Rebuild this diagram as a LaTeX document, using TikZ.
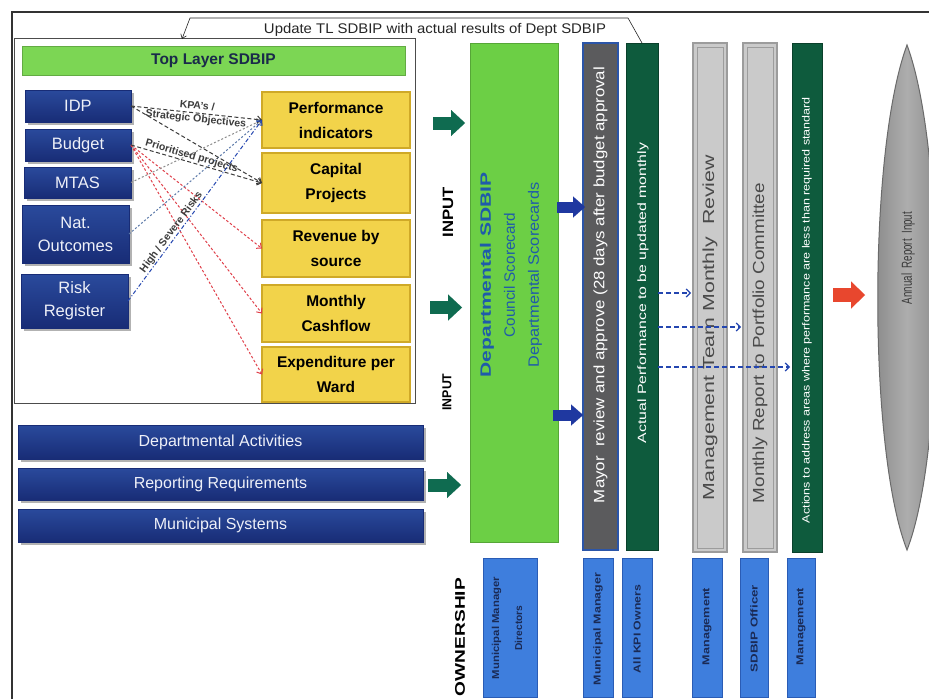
\documentclass[tikz,border=0pt]{standalone}
\usepackage{fontspec}
\setmainfont{Liberation Sans}
\usetikzlibrary{arrows.meta,calc,shadows}
\definecolor{navyA}{HTML}{2A4A9C}
\definecolor{navyB}{HTML}{182C76}
\definecolor{ntext}{HTML}{EEF0F8}
\definecolor{yelF}{HTML}{F2D34A}
\definecolor{yelD}{HTML}{CFA928}
\definecolor{lgreen}{HTML}{7CD654}
\definecolor{ttext}{HTML}{1A2A4A}
\definecolor{dgreen}{HTML}{6CCF45}
\definecolor{arrowteal}{HTML}{0F6B50}
\definecolor{ablue}{HTML}{1F38A0}
\definecolor{mayorgray}{HTML}{5B5B5D}
\definecolor{mayorblue}{HTML}{2B55A8}
\definecolor{forest}{HTML}{0E5B3D}
\definecolor{barGd}{HTML}{9C9C9C}
\definecolor{barGl}{HTML}{CACACA}
\definecolor{barT}{HTML}{4A4A4A}
\definecolor{redarrow}{HTML}{E8472E}
\definecolor{ownF}{HTML}{3E7EDD}
\definecolor{ownD}{HTML}{2A5CB5}
\definecolor{ownT}{HTML}{1A2A55}
\definecolor{dashblue}{HTML}{2446B0}
\definecolor{connred}{HTML}{E0404A}
\definecolor{conngray}{HTML}{3C3C3C}
\definecolor{bgray}{HTML}{5A78A8}
\definecolor{deptblue}{HTML}{1F5BAA}
\definecolor{ellD}{HTML}{858585}
\definecolor{ellL}{HTML}{ADADAD}
\definecolor{ellT}{HTML}{3A3A3A}
\newcommand\strtext[2]{\resizebox{#1}{\height}{#2}}
\begin{document}
\begin{tikzpicture}[x=1pt,y=-1pt,
  every node/.style={inner sep=0pt,outer sep=0pt},
  tlframe/.style={draw=black!70, line width=1pt, fill=white},
  tlbar/.style={fill=lgreen, draw=lgreen!80!black, line width=0.4pt, text=ttext, font=\bfseries\fontsize{15.5}{15.5}\selectfont},
  navybox/.style={draw=navyB, line width=0.5pt, top color=navyA, bottom color=navyB, text=ntext, align=center, font=\fontsize{16.5}{23}\selectfont, drop shadow={shadow xshift=2.5pt, shadow yshift=-2.5pt, opacity=0.3, fill=black}},
  yelbox/.style={draw=yelD, line width=1.2pt, fill=yelF, align=center, font=\bfseries\fontsize{15.5}{25}\selectfont, text=black},
  conn/.style={line width=1pt, -{Straight Barb[length=4pt,width=7pt]}},
  conngr/.style={conn, draw=conngray, dash pattern=on 4pt off 2.5pt},
  connlg/.style={conn, draw=black!45, dash pattern=on 2pt off 2pt},
  connbg/.style={conn, draw=bgray, dash pattern=on 2pt off 2pt},
  connbl/.style={conn, draw=dashblue, dash pattern=on 4pt off 2pt on 1pt off 2pt},
  connrd/.style={conn, draw=connred, dash pattern=on 2.5pt off 2pt},
  lbl/.style={font=\bfseries\fontsize{10.5}{13}\selectfont, text=conngray, align=center},
  bigarrow/.style={line width=13pt, draw=#1, -{Triangle[length=14pt,width=26pt,line width=0.01pt]}},
  midarrow/.style={line width=11pt, draw=#1, -{Triangle[length=12pt,width=21pt,line width=0.01pt]}},
  dasharrow/.style={draw=dashblue, line width=1.2pt, dash pattern=on 5pt off 3pt, -{Straight Barb[length=4pt,width=8pt]}},
  deptbar/.style={fill=dgreen, draw=dgreen!80!black, line width=0.5pt},
  mayorbar/.style={fill=mayorgray, draw=mayorblue, line width=2pt},
  forestbar/.style={fill=forest, draw=forest!70!black, line width=0.5pt},
  graybar/.style={fill=barGl, draw=barGd, line width=1.2pt},
  ownbox/.style={fill=ownF, draw=ownD, line width=0.8pt},
  owntext/.style={rotate=90, text=ownT, align=center, font=\bfseries\fontsize{10}{23}\selectfont},
  vtext/.style={rotate=90, align=center},
  boldlbl/.style={rotate=90, text=black, font=\bfseries\fontsize{14}{14}\selectfont},
  frame/.style={draw=black!80, line width=1.3pt},
  calloutline/.style={draw=black!85, line width=0.6pt, -{Straight Barb[length=4pt,width=6pt]}}
]
\useasboundingbox (0,0) rectangle (929,699);
\clip (0,0) rectangle (929,699);
\fill[white] (0,0) rectangle (929,699);

% outer frame
\draw[frame] (12,699) -- (12,12) -- (929,12);

% top layer box
\node[tlframe, minimum width=401pt, minimum height=365pt] (tlbox) at (214.5,221) {};
\node[tlbar, minimum width=383pt, minimum height=29pt] (tlbar) at (213.5,60.5) {Top Layer SDBIP};

% left navy boxes
\node[navybox, minimum width=106pt, minimum height=32pt] (idp) at (78,106) {IDP};
\node[navybox, minimum width=106pt, minimum height=32pt] (budget) at (78,145) {Budget};
\node[navybox, minimum width=107pt, minimum height=31pt] (mtas) at (77.5,182.5) {MTAS};
\node[navybox, minimum width=107pt, minimum height=58pt] (nat) at (75.5,234) {Nat.\\Outcomes};
\node[navybox, minimum width=107pt, minimum height=54pt] (risk) at (74.5,301) {Risk\\Register};

% yellow boxes
\node[yelbox, minimum width=148pt, minimum height=56pt] (perf) at (336,120) {Performance\\indicators};
\node[yelbox, minimum width=148pt, minimum height=60pt] (cap) at (336,183) {Capital\\Projects};
\node[yelbox, minimum width=148pt, minimum height=57pt] (rev) at (336,248.5) {Revenue by\\source};
\node[yelbox, minimum width=148pt, minimum height=57pt] (cash) at (336,313.5) {Monthly\\Cashflow};
\node[yelbox, minimum width=148pt, minimum height=55pt] (exp) at (336,374.5) {Expenditure per\\Ward};

% connectors in top layer
\draw[connrd] (budget.east) -- (rev.west);
\draw[connrd] (budget.east) -- (cash.west);
\draw[connrd] (budget.east) -- (exp.west);
\draw[connlg] (mtas.east) -- (perf.west);
\draw[connbg] (nat.east) -- (perf.west);
\draw[conngr] (idp.east) -- (cap.west);
\draw[conngr] (budget.east) -- (cap.west) node[pos=0.45, sloped, above=1pt, lbl] (lblprio) {Prioritised projects};
\draw[conngr] (idp.east) -- (perf.west) node[midway, sloped, lbl] (lblkpa) {KPA's /\\Strategic Objectives};
\draw[connbl] (risk.east) -- (perf.west) node[pos=0.36, sloped, above=1pt, lbl] (lblrisk) {High / Severe Risks};

% lower navy bars
\node[navybox, minimum width=405pt, minimum height=34pt, font=\fontsize{16}{16}\selectfont] (da) at (220.5,442) {Departmental Activities};
\node[navybox, minimum width=405pt, minimum height=32pt, font=\fontsize{16}{16}\selectfont] (rr) at (220.5,484) {Reporting Requirements};
\node[navybox, minimum width=405pt, minimum height=33pt, font=\fontsize{16}{16}\selectfont] (ms) at (220.5,525.5) {Municipal Systems};

% vertical bars
\node[deptbar, minimum width=88pt, minimum height=499pt] (dept) at (514,292.5) {};
\node[mayorbar, minimum width=35pt, minimum height=507pt] (mayor) at (600.5,296.5) {};
\node[forestbar, minimum width=32pt, minimum height=507pt] (actual) at (642,296.5) {};
\node[graybar, minimum width=34pt, minimum height=509pt] (mtmr) at (710,297.5) {};
\node[graybar, minimum width=34pt, minimum height=509pt] (mrpc) at (760,297.5) {};
\node[forestbar, minimum width=30pt, minimum height=509pt] (actions) at (807,297.5) {};
\draw[draw=barGd, line width=0.8pt] ($(mtmr.north west)+(4,4)$) rectangle ($(mtmr.south east)+(-4,-4)$);
\draw[draw=barGd, line width=0.8pt] ($(mrpc.north west)+(4,4)$) rectangle ($(mrpc.south east)+(-4,-4)$);

% bar texts
\node[vtext, text=deptblue, font=\fontsize{15}{24}\selectfont] (depttext) at (511,275)
  {\strtext{205pt}{\bfseries Departmental SDBIP}\\\strtext{125pt}{Council Scorecard}\\\strtext{185pt}{Departmental Scorecards}};
\node[vtext, text=white, font=\fontsize{15}{15}\selectfont] (mayortext) at (600.5,285)
  {\strtext{436pt}{Mayor\ \ review and approve (28 days after budget approval}};
\node[vtext, text=white, font=\fontsize{12}{12}\selectfont] (actualtext) at (643,293)
  {\strtext{300pt}{Actual Performance to be updated monthly}};
\node[vtext, text=barT, font=\fontsize{16}{16}\selectfont] (mtmrtext) at (710,327.5)
  {\strtext{345pt}{Management Team Monthly\ \ Review}};
\node[vtext, text=barT, font=\fontsize{16}{16}\selectfont] (mrpctext) at (760,343)
  {\strtext{320pt}{Monthly Report to Portfolio Committee}};
\node[vtext, text=white, font=\fontsize{10.5}{10.5}\selectfont] (actionstext) at (807,310)
  {\strtext{426pt}{Actions to address areas where performance are less than required standard}};

% input labels
\node[boldlbl, font=\bfseries\fontsize{15}{15}\selectfont] (input1) at (448,212) {\strtext{50pt}{INPUT}};
\node[boldlbl, font=\bfseries\fontsize{13}{13}\selectfont] (input2) at (447,392) {\strtext{37pt}{INPUT}};

% big arrows
\draw[bigarrow=arrowteal] ($(tlbox.east |- perf.center)+(18,3)$) -- ($(dept.west |- perf.center)+(-5,3)$);
\draw[bigarrow=arrowteal] ($(tlbox.east |- cash.center)+(15,-6)$) -- ($(dept.west |- cash.center)+(-8,-6)$);
\draw[bigarrow=arrowteal] ($(rr.east)+(5,1)$) -- ($(dept.west |- rr.east)+(-9,1)$);
\draw[midarrow=ablue] ($(dept.east |- 0,207)+(-1,0)$) -- ($(mayor.west |- 0,207)+(2,0)$);
\draw[midarrow=ablue] ($(dept.east |- 0,415)+(-5,0)$) -- ($(mayor.west |- 0,415)+(0,0)$);

% dashed arrows
\draw[dasharrow] (actual.east |- 0,293) -- ($(mtmr.west |- 0,293)+(-2,0)$);
\draw[dasharrow] (actual.east |- 0,327) -- ($(mrpc.west |- 0,327)+(-2,0)$);
\draw[dasharrow] (actual.east |- 0,367) -- ($(actions.west |- 0,367)+(-2,0)$);

% annual report lens
\path[draw=ellD!80!black, line width=1pt, left color=ellD, right color=ellD, middle color=ellL]
  (907,45) .. controls (868,150) and (868,450) .. (907,550) .. controls (946,450) and (946,150) .. (907,45) -- cycle;
\node[vtext, text=ellT, font=\fontsize{14.5}{14.5}\selectfont] (annual) at (908,258) {\strtext{92pt}{Annual\ \ Report\ \ Input}};
\coordinate (annualin) at (865,295);
\draw[line width=14pt, draw=redarrow, -{Triangle[length=14pt,width=27pt,line width=0.01pt]}] ($(actions.east |- annualin)+(11,0)$) -- (annualin);

% callout
\coordinate (cr) at (628,18);
\coordinate (cl) at (190,18);
\coordinate (ctip) at (182,39);
\draw[calloutline] (actual.north) -- (cr) -- (cl) -- (ctip);
\node[font=\fontsize{14}{14}\selectfont, text=black!85] (upd) at (435,30) {\strtext{342pt}{Update TL SDBIP with actual results of Dept SDBIP}};

% ownership
\node[boldlbl, font=\bfseries\fontsize{14}{14}\selectfont] (ownlbl) at (460,637) {\strtext{118pt}{OWNERSHIP}};
\node[ownbox, minimum width=54pt, minimum height=139pt] (o1) at (510,627.5) {};
\node[ownbox, minimum width=30pt, minimum height=139pt] (o2) at (598,627.5) {};
\node[ownbox, minimum width=30pt, minimum height=139pt] (o3) at (637,627.5) {};
\node[ownbox, minimum width=30pt, minimum height=139pt] (o4) at (707,627.5) {};
\node[ownbox, minimum width=28pt, minimum height=139pt] (o5) at (754,627.5) {};
\node[ownbox, minimum width=28pt, minimum height=139pt] (o6) at (801,627.5) {};
\node[owntext] (o1t) at (507,628) {\strtext{102pt}{Municipal Manager}\\\strtext{45pt}{Directors}};
\node[owntext] (o2t) at (598,629) {\strtext{112pt}{Municipal Manager}};
\node[owntext] (o3t) at (637,629) {\strtext{88pt}{All KPI Owners}};
\node[owntext] (o4t) at (707,626.5) {\strtext{77pt}{Management}};
\node[owntext] (o5t) at (754,628.5) {\strtext{87pt}{SDBIP Officer}};
\node[owntext] (o6t) at (801,626.5) {\strtext{77pt}{Management}};
\end{tikzpicture}
\end{document}
